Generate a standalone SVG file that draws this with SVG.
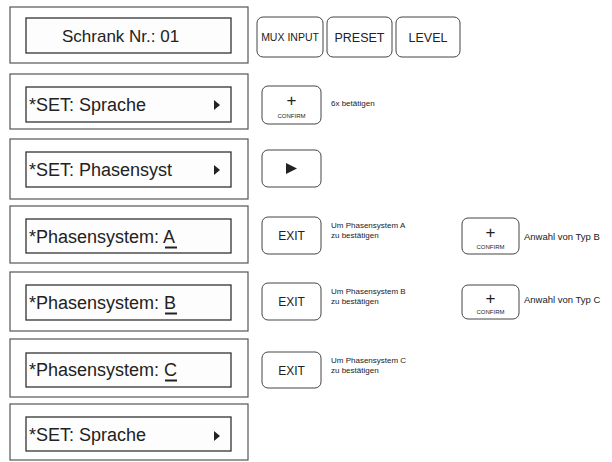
<svg xmlns="http://www.w3.org/2000/svg" width="612" height="462" viewBox="0 0 612 462">
<style>
.outer{fill:none;stroke:#555;stroke-width:1.2}
.inner{fill:#fdfdfd;stroke:#333;stroke-width:1.3}
.lcd{font-family:"Liberation Sans",Arial,sans-serif;font-size:18px;fill:#222}
.btn{fill:#fff;stroke:#444;stroke-width:1}
.bt{font-family:"Liberation Sans",Arial,sans-serif;fill:#222;text-anchor:middle}
.sm{font-family:"Liberation Sans",Arial,sans-serif;font-size:8px;fill:#222}
.an{font-family:"Liberation Sans",Arial,sans-serif;font-size:9.5px;fill:#222}
.ul{stroke:#222;stroke-width:2}
</style>
<rect width="612" height="462" fill="#fff"/>

<g id="row1">
<rect class="outer" x="10" y="7" width="238" height="56"/>
<rect class="inner" x="26" y="18" width="205" height="35"/>
<text class="lcd" x="62" y="41.5" style="font-size:17px">Schrank Nr.: 01</text>
</g>
<g id="btn-mux"><rect class="btn" x="257" y="17" width="66" height="40" rx="6"/><text class="bt" x="290" y="41" font-size="10.5">MUX INPUT</text></g>
<g id="btn-preset"><rect class="btn" x="327" y="17" width="65" height="40" rx="6"/><text class="bt" x="359.5" y="41.5" font-size="12.5">PRESET</text></g>
<g id="btn-level"><rect class="btn" x="396" y="17" width="64" height="40" rx="6"/><text class="bt" x="428" y="41.5" font-size="12.5">LEVEL</text></g>

<g id="row2">
<rect class="outer" x="10" y="74" width="238" height="55"/>
<rect class="inner" x="26" y="87" width="205" height="35"/>
<text class="lcd" x="29" y="111">*SET: Sprache</text>
<polygon points="214,100 220,105 214,110" fill="#222"/>
</g>
<g id="btn-confirm1"><rect class="btn" x="262" y="86" width="59" height="38" rx="6"/>
<text class="bt" x="291.5" y="106" font-size="17">+</text><text class="bt" x="291.5" y="118" font-size="6">CONFIRM</text></g>
<text class="sm" x="331" y="106">6x betätigen</text>

<g id="row3">
<rect class="outer" x="10" y="139" width="238" height="60"/>
<rect class="inner" x="26" y="152" width="205" height="35"/>
<text class="lcd" x="29" y="176">*SET: Phasensyst</text>
<polygon points="214,165 220,170 214,175" fill="#222"/>
</g>
<g id="btn-right"><rect class="btn" x="262" y="150" width="59" height="37" rx="6"/>
<polygon points="286,163 297,168.5 286,174" fill="#222"/></g>

<g id="row4">
<rect class="outer" x="10" y="206" width="238" height="57"/>
<rect class="inner" x="26" y="219" width="205" height="34"/>
<text class="lcd" x="29" y="243">*Phasensystem: A</text>
<line class="ul" x1="165" y1="247.5" x2="177" y2="247.5"/>
</g>
<g id="btn-exit1"><rect class="btn" x="262" y="217" width="59" height="37" rx="6"/><text class="bt" x="291.5" y="240" font-size="12">EXIT</text></g>
<text class="sm" x="331" y="228">Um Phasensystem A</text>
<text class="sm" x="331" y="237.5">zu bestätigen</text>
<g id="btn-confirm2"><rect class="btn" x="462" y="218" width="57" height="36" rx="6"/>
<text class="bt" x="490.5" y="238" font-size="17">+</text><text class="bt" x="490.5" y="249" font-size="6">CONFIRM</text></g>
<text class="an" x="524" y="240">Anwahl von Typ B</text>

<g id="row5">
<rect class="outer" x="10" y="272" width="238" height="59"/>
<rect class="inner" x="26" y="285" width="205" height="35"/>
<text class="lcd" x="29" y="309">*Phasensystem: B</text>
<line class="ul" x1="165" y1="313.5" x2="177" y2="313.5"/>
</g>
<g id="btn-exit2"><rect class="btn" x="262" y="283" width="59" height="37" rx="6"/><text class="bt" x="291.5" y="306" font-size="12">EXIT</text></g>
<text class="sm" x="331" y="294">Um Phasensystem B</text>
<text class="sm" x="331" y="303.5">zu bestätigen</text>
<g id="btn-confirm3"><rect class="btn" x="462" y="285" width="57" height="34" rx="6"/>
<text class="bt" x="490.5" y="304" font-size="17">+</text><text class="bt" x="490.5" y="314" font-size="6">CONFIRM</text></g>
<text class="an" x="524" y="303">Anwahl von Typ C</text>

<g id="row6">
<rect class="outer" x="10" y="339" width="238" height="58"/>
<rect class="inner" x="26" y="353" width="205" height="34"/>
<text class="lcd" x="29" y="376">*Phasensystem: C</text>
<line class="ul" x1="165" y1="380.5" x2="177" y2="380.5"/>
</g>
<g id="btn-exit3"><rect class="btn" x="262" y="352" width="59" height="36" rx="6"/><text class="bt" x="291.5" y="374.5" font-size="12">EXIT</text></g>
<text class="sm" x="331" y="363">Um Phasensystem C</text>
<text class="sm" x="331" y="372.5">zu bestätigen</text>

<g id="row7">
<rect class="outer" x="10" y="404" width="238" height="56"/>
<rect class="inner" x="26" y="417" width="205" height="34"/>
<text class="lcd" x="29" y="441">*SET: Sprache</text>
<polygon points="214,431 220,436 214,441" fill="#222"/>
</g>
</svg>
